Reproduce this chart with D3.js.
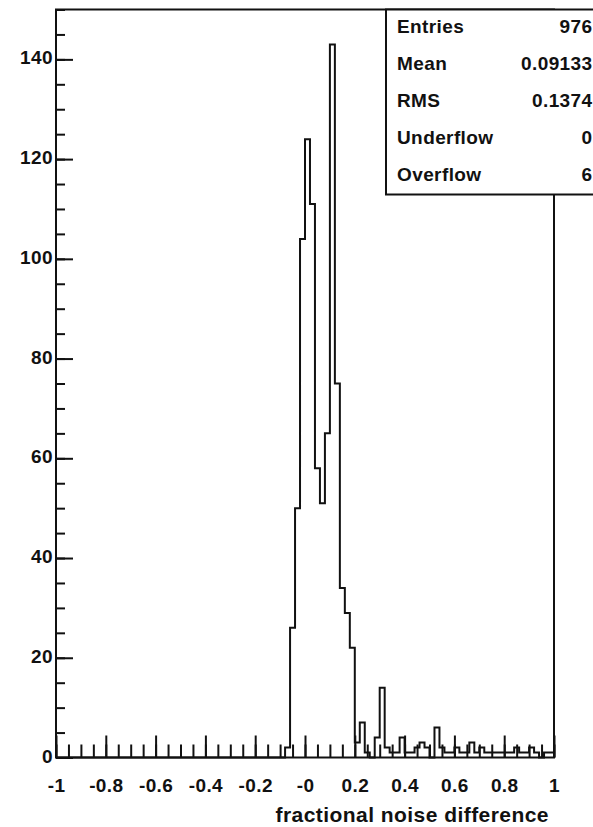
<!DOCTYPE html>
<html>
<head>
<meta charset="utf-8">
<script src="https://cdn.jsdelivr.net/npm/d3@7"></script>
<style>
  html, body { margin: 0; padding: 0; background: #fff; }
  svg { display: block; }
  text { font-family: "Liberation Sans", Arial, Helvetica, sans-serif; font-weight: bold; fill: #111; }
</style>
</head>
<body>
<svg id="chart" width="593" height="827"></svg>
<script>
// Histogram of the fractional noise difference, 100 bins over [-1, 1]
const binLow = -1;
const binHigh = 1;
const binWidth = 0.02;
const counts = [
  0, 0, 0, 0, 0, 0, 0, 0, 0, 0,
  0, 0, 0, 0, 0, 0, 0, 0, 0, 0,
  0, 0, 0, 0, 0, 0, 0, 0, 0, 0,
  0, 0, 0, 0, 0, 0, 0, 0, 0, 0,
  0, 0, 0, 0, 0, 0, 2, 26, 50, 104,
  124, 111, 58, 51, 65, 143, 75, 34, 29, 22,
  3, 7, 1, 0, 4, 14, 2, 1, 1, 4,
  1, 1, 2, 3, 2, 0, 6, 2, 1, 1,
  2, 1, 1, 3, 1, 2, 1, 1, 1, 1,
  1, 1, 2, 1, 1, 2, 1, 0, 1, 1
];

// Axis ticks and labels
const xMajorTicks = [-1, -0.8, -0.6, -0.4, -0.2, 0, 0.2, 0.4, 0.6, 0.8, 1];
const xTickLabels = ["-1", "-0.8", "-0.6", "-0.4", "-0.2", "-0", "0.2", "0.4", "0.6", "0.8", "1"];
const xMinorTicks = d3.range(0, 41).map(i => Math.round((-1 + i * 0.05) * 100) / 100);
const yMajorTicks = [0, 20, 40, 60, 80, 100, 120, 140];
const yMinorTicks = d3.range(0, 31).map(i => i * 5);
const yMax = 150;
const xTitle = "fractional noise difference";

// Statistics box
const statLabels = ["Entries", "Mean", "RMS", "Underflow", "Overflow"];
const statValues = ["976", "0.09133", "0.1374", "0", "6"];

const frame = { left: 56, right: 554, top: 9.5, bottom: 757.5 };
const svg = d3.select("#chart");

const x = d3.scaleLinear().domain([binLow, binHigh]).range([frame.left, frame.right]);
const y = d3.scaleLinear().domain([0, yMax]).range([frame.bottom, frame.top]);

// Frame
svg.append("rect")
  .attr("x", frame.left).attr("y", frame.top)
  .attr("width", frame.right - frame.left)
  .attr("height", frame.bottom - frame.top)
  .attr("fill", "none").attr("stroke", "#111").attr("stroke-width", 2);

// Histogram outline as a step line
const pts = [[binLow, 0]];
counts.forEach((c, i) => pts.push([binLow + i * binWidth, c]));
pts.push([binHigh, counts[counts.length - 1]]);
pts.push([binHigh, 0]);
const step = d3.line().x(d => x(d[0])).y(d => y(d[1])).curve(d3.curveStepAfter);
svg.append("path")
  .attr("d", step(pts))
  .attr("fill", "none").attr("stroke", "#111").attr("stroke-width", 2)
  .attr("stroke-linejoin", "miter");

// X axis: minor and major ticks pointing into the frame
const fs = 19;
const gxMinor = svg.append("g").attr("transform", `translate(0,${frame.bottom})`)
  .call(d3.axisBottom(x).tickValues(xMinorTicks).tickSize(-13).tickFormat(""));
const gx = svg.append("g").attr("transform", `translate(0,${frame.bottom})`)
  .call(d3.axisBottom(x).tickValues(xMajorTicks).tickSize(-22)
    .tickFormat((d, i) => xTickLabels[i]));
[gxMinor, gx].forEach(g => {
  g.select(".domain").remove();
  g.selectAll("line").attr("stroke", "#111").attr("stroke-width", 2);
});
gx.selectAll("text")
  .attr("y", 34.5).attr("dy", null)
  .style("font-size", fs + "px").style("letter-spacing", "0.4px")
  .attr("fill", "#111");

// Y axis
const gyMinor = svg.append("g").attr("transform", `translate(${frame.left},0)`)
  .call(d3.axisLeft(y).tickValues(yMinorTicks).tickSize(-9).tickFormat(""));
const gy = svg.append("g").attr("transform", `translate(${frame.left},0)`)
  .call(d3.axisLeft(y).tickValues(yMajorTicks).tickSize(-17).tickFormat(d3.format("d")));
[gyMinor, gy].forEach(g => {
  g.select(".domain").remove();
  g.selectAll("line").attr("stroke", "#111").attr("stroke-width", 2);
});
gy.selectAll("text")
  .attr("x", -3).attr("dy", "4.5px")
  .style("font-size", fs + "px").style("letter-spacing", "0.4px")
  .attr("fill", "#111");

// Axis title
svg.append("text")
  .attr("x", 549).attr("y", 822)
  .attr("text-anchor", "end")
  .style("font-size", "21px").style("letter-spacing", "0.45px")
  .text(xTitle);

// Statistics box
const box = { left: 386, top: 9.5, right: 600, bottom: 194.5 };
svg.append("rect")
  .attr("x", box.left).attr("y", box.top)
  .attr("width", box.right - box.left).attr("height", box.bottom - box.top)
  .attr("fill", "#fff").attr("stroke", "#111").attr("stroke-width", 2);
const rowY = d3.scaleLinear().domain([0, statLabels.length - 1]).range([32.5, 180.5]);
const rows = svg.append("g").selectAll("g").data(statLabels).join("g");
rows.append("text")
  .attr("x", 397).attr("y", (d, i) => rowY(i))
  .style("font-size", fs + "px").style("letter-spacing", "0.4px")
  .text(d => d);
rows.append("text")
  .attr("x", 592.5).attr("y", (d, i) => rowY(i))
  .attr("text-anchor", "end")
  .style("font-size", fs + "px").style("letter-spacing", "0.4px")
  .text((d, i) => statValues[i]);
</script>
</body>
</html>
